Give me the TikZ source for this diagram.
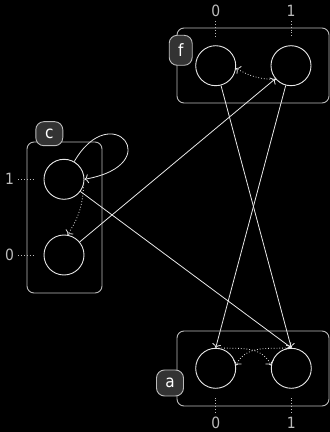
\documentclass[tikz,border=0pt]{standalone}
\usepackage{fontspec}
\setmainfont{DejaVu Sans Condensed}
\usetikzlibrary{arrows.meta}
\definecolor{edgecol}{HTML}{E8E8E8}
\definecolor{boxcol}{HTML}{BBBBBB}
\definecolor{labfill}{HTML}{333333}
\begin{document}
\begin{tikzpicture}[x=1pt,y=1pt,
 state/.style={circle,draw=edgecol,line width=0.9pt,minimum size=40pt,inner sep=0pt},
 grp/.style={draw=boxcol,line width=0.9pt,rounded corners=7pt,inner sep=0pt},
 tag/.style={draw=boxcol,fill=labfill,line width=0.9pt,rounded corners=8pt,text=white,font=\fontsize{17}{17}\selectfont,inner sep=0pt},
 idx/.style={text=boxcol,font=\fontsize{15.5}{15.5}\selectfont,inner sep=0pt},
 tick/.style={dotted,draw=boxcol,line width=0.9pt,shorten <=4pt,shorten >=9pt},
 edge/.style={draw=edgecol,line width=0.8pt,-{To[length=4pt,width=9pt]}},
 dedge/.style={edge,dotted}]
\fill[black] (0,0) rectangle (330,432);
\useasboundingbox (0,0) rectangle (330,432);
% group boxes
\node[grp,minimum width=152pt,minimum height=75pt] (F) at (253,366.5) {};
\node[grp,minimum width=75pt,minimum height=151pt] (C) at (64.5,214.5) {};
\node[grp,minimum width=152pt,minimum height=75pt] (A) at (253,63.5) {};
% states
\node[state] (f0) at (215.7,366.3) {};
\node[state] (f1) at (291,366.3) {};
\node[state] (c1) at (64,252.7) {};
\node[state] (c0) at (64,177) {};
\node[state] (a0) at (215.7,63.7) {};
\node[state] (a1) at (291.3,63.7) {};
% tags
\node[tag,minimum width=23pt,minimum height=30pt] (tf) at (180.7,381.7) {f};
\node[tag,minimum width=27pt,minimum height=24pt] (tc) at (49.3,298.3) {c};
\node[tag,minimum width=27pt,minimum height=26pt] (ta) at (170,49) {a};
% index labels
\node[idx] (lf0) at (215.7,421) {0};
\node[idx] (lf1) at (291,421) {1};
\node[idx] (lc1) at (9.5,252.7) {1};
\node[idx] (lc0) at (9.5,177) {0};
\node[idx] (la0) at (215.7,9.5) {0};
\node[idx] (la1) at (291.3,9.5) {1};
\draw[tick] (lf0) -- (f0);
\draw[tick] (lf1) -- (f1);
\draw[tick] (lc1) -- (c1);
\draw[tick] (lc0) -- (c0);
\draw[tick] (la0) -- (a0);
\draw[tick] (la1) -- (a1);
% edges
\draw[edge] (c1.60) .. controls +(60:75) and +(10:85) .. (c1.east);
\draw[dedge] (c1.-15) to[bend left=15] (c0.80);
\draw[edge] (c0) -- (f1);
\draw[edge] (c1) -- (a1.north);
\draw[edge] (f0) -- (a1.north);
\draw[edge] (f1) -- (a0.north);
\draw[dedge] (f1.222) to[bend left=15] (f0.-7);
\draw[dedge] (a0.north) to[out=-3,in=115] (a1.172);
\draw[dedge] (a1.north) to[out=183,in=65] (a0.8);
\end{tikzpicture}
\end{document}
